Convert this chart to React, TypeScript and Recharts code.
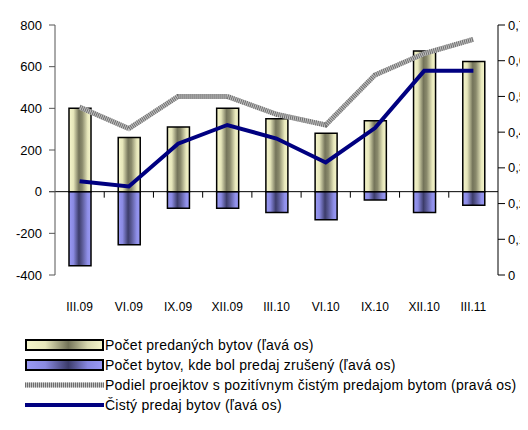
import { ComposedChart, Bar, Line, XAxis, YAxis, ReferenceLine } from 'recharts';

const quarters = ['III.09', 'VI.09', 'IX.09', 'XII.09', 'III.10', 'VI.10', 'IX.10', 'XII.10', 'III.11'];
const soldFlats = [400, 260, 310, 400, 350, 280, 340, 675, 625];
const cancelledFlats = [-355, -255, -80, -80, -100, -135, -40, -100, -65];
const positiveShare = [0.47, 0.41, 0.5, 0.5, 0.45, 0.42, 0.56, 0.62, 0.66];
const netSales = [50, 25, 230, 320, 255, 140, 305, 580, 580];

const leftTicks = [-400, -200, 0, 200, 400, 600, 800];
const rightTicks = [0, 0.1, 0.2, 0.3, 0.4, 0.5, 0.6, 0.7];

const data = quarters.map((q, i) => ({
  q,
  sold: soldFlats[i],
  cancelled: cancelledFlats[i],
  share: positiveShare[i],
  net: netSales[i],
}));

const font = '"Liberation Sans", Arial, sans-serif';

// zero line with tick marks between categories
const ZeroLine = (props: any) => {
  const { x1, x2, y1 } = props;
  const n = quarters.length;
  const step = (x2 - x1) / n;
  const ticks = [];
  for (let i = 1; i < n; i++) {
    const x = x1 + step * i;
    ticks.push(<line key={i} x1={x} x2={x} y1={y1} y2={y1 + 6} stroke="#000" strokeWidth={1} />);
  }
  return (
    <g>
      <line x1={x1 - 6} x2={x2} y1={y1} y2={y1} stroke="#000" strokeWidth={1} />
      {ticks}
    </g>
  );
};

const legendItems = [
  { label: 'Počet predaných bytov (ľavá os)', kind: 'sold' },
  { label: 'Počet bytov, kde bol predaj zrušený (ľavá os)', kind: 'cancel' },
  { label: 'Podiel proejktov s pozitívnym čistým predajom bytom (pravá os)', kind: 'pattern' },
  { label: 'Čistý predaj bytov (ľavá os)', kind: 'line' },
];

function LegendBox() {
  return (
    <svg width={528} height={90} style={{ position: 'absolute', left: 0, top: 333 }}>
      <defs>
        <linearGradient id="lgSold" x1="0" y1="0" x2="1" y2="0">
          <stop offset="0%" stopColor="#f6f6cc" />
          <stop offset="25%" stopColor="#e8e8bc" />
          <stop offset="55%" stopColor="#727258" />
          <stop offset="80%" stopColor="#d8d8b0" />
          <stop offset="100%" stopColor="#f6f6cc" />
        </linearGradient>
        <linearGradient id="lgCancel" x1="0" y1="0" x2="1" y2="0">
          <stop offset="0%" stopColor="#9a9af5" />
          <stop offset="25%" stopColor="#8a8ae0" />
          <stop offset="55%" stopColor="#3c3c6a" />
          <stop offset="80%" stopColor="#8888e0" />
          <stop offset="100%" stopColor="#9a9af5" />
        </linearGradient>
      </defs>
      {legendItems.map((it, i) => {
        const cy = 12 + i * 20;
        return (
          <g key={i}>
            {it.kind === 'sold' && (
              <rect x={26} y={cy - 5} width={77} height={10} fill="url(#lgSold)" stroke="#000" strokeWidth={2} />
            )}
            {it.kind === 'cancel' && (
              <rect x={26} y={cy - 5} width={77} height={10} fill="url(#lgCancel)" stroke="#000" strokeWidth={2} />
            )}
            {it.kind === 'pattern' && (
              <g>
                <line x1={25} x2={104} y1={cy} y2={cy} stroke="#c4c4c4" strokeWidth={5} />
                <line x1={25} x2={104} y1={cy} y2={cy} stroke="#6e6e6e" strokeWidth={5} strokeDasharray="1 1" />
              </g>
            )}
            {it.kind === 'line' && <line x1={25} x2={104} y1={cy} y2={cy} stroke="#000080" strokeWidth={4} />}
            <text x={105} y={cy + 5} fontSize={14} letterSpacing={0.25} fontFamily={font} fill="#000">
              {it.label}
            </text>
          </g>
        );
      })}
    </svg>
  );
}

export default function App() {
  return (
    <div style={{ position: 'relative', width: 528, height: 430, margin: -8, background: '#fff' }}>
      <ComposedChart
        width={528}
        height={430}
        data={data}
        stackOffset="sign"
        barSize={22}
        margin={{ top: 25, right: 0, left: 0, bottom: 115 }}
      >
        <defs>
          <linearGradient id="gradSold" x1="0" y1="0" x2="1" y2="0">
            <stop offset="0%" stopColor="#f6f6cc" />
            <stop offset="20%" stopColor="#e6e6ba" />
            <stop offset="45%" stopColor="#74745a" />
            <stop offset="60%" stopColor="#8a8a6c" />
            <stop offset="85%" stopColor="#e8e8bc" />
            <stop offset="100%" stopColor="#f6f6cc" />
          </linearGradient>
          <linearGradient id="gradCancel" x1="0" y1="0" x2="1" y2="0">
            <stop offset="0%" stopColor="#9a9af5" />
            <stop offset="20%" stopColor="#8a8ae2" />
            <stop offset="45%" stopColor="#3c3c6a" />
            <stop offset="60%" stopColor="#5a5a96" />
            <stop offset="85%" stopColor="#9090ea" />
            <stop offset="100%" stopColor="#9a9af5" />
          </linearGradient>
        </defs>
        <XAxis
          dataKey="q"
          axisLine={false}
          tickLine={false}
          tickMargin={21}
          height={40}
          interval={0}
          tick={{ fontSize: 12, fill: '#000', fontFamily: font }}
        />
        <YAxis
          yAxisId="left"
          domain={[-400, 800]}
          ticks={leftTicks}
          width={55}
          interval={0}
          stroke="#555"
          tickSize={6}
          tickMargin={7}
          tick={{ fontSize: 13, fill: '#000', fontFamily: font }}
        />
        <YAxis
          yAxisId="right"
          orientation="right"
          domain={[0, 0.7]}
          ticks={rightTicks}
          width={30}
          interval={0}
          stroke="#000"
          tickSize={7}
          tickMargin={3}
          tickFormatter={(v: number) => String(v).replace('.', ',')}
          tick={{ fontSize: 13, fill: '#000', fontFamily: font }}
        />
        <Bar yAxisId="left" dataKey="sold" stackId="a" fill="url(#gradSold)" stroke="#000" strokeWidth={1.5} isAnimationActive={false} />
        <Bar yAxisId="left" dataKey="cancelled" stackId="a" fill="url(#gradCancel)" stroke="#000" strokeWidth={1.5} isAnimationActive={false} />
        <ReferenceLine yAxisId="left" y={0} shape={ZeroLine} />
        <Line
          yAxisId="right"
          dataKey="share"
          type="linear"
          stroke="#c4c4c4"
          strokeWidth={5}
          dot={false}
          isAnimationActive={false}
        />
        <Line
          yAxisId="right"
          dataKey="share"
          type="linear"
          stroke="#6e6e6e"
          strokeWidth={5}
          strokeDasharray="1 1"
          dot={false}
          isAnimationActive={false}
        />
        <Line
          yAxisId="left"
          dataKey="net"
          type="linear"
          stroke="#000080"
          strokeWidth={4}
          dot={false}
          isAnimationActive={false}
        />
      </ComposedChart>
      <LegendBox />
    </div>
  );
}
